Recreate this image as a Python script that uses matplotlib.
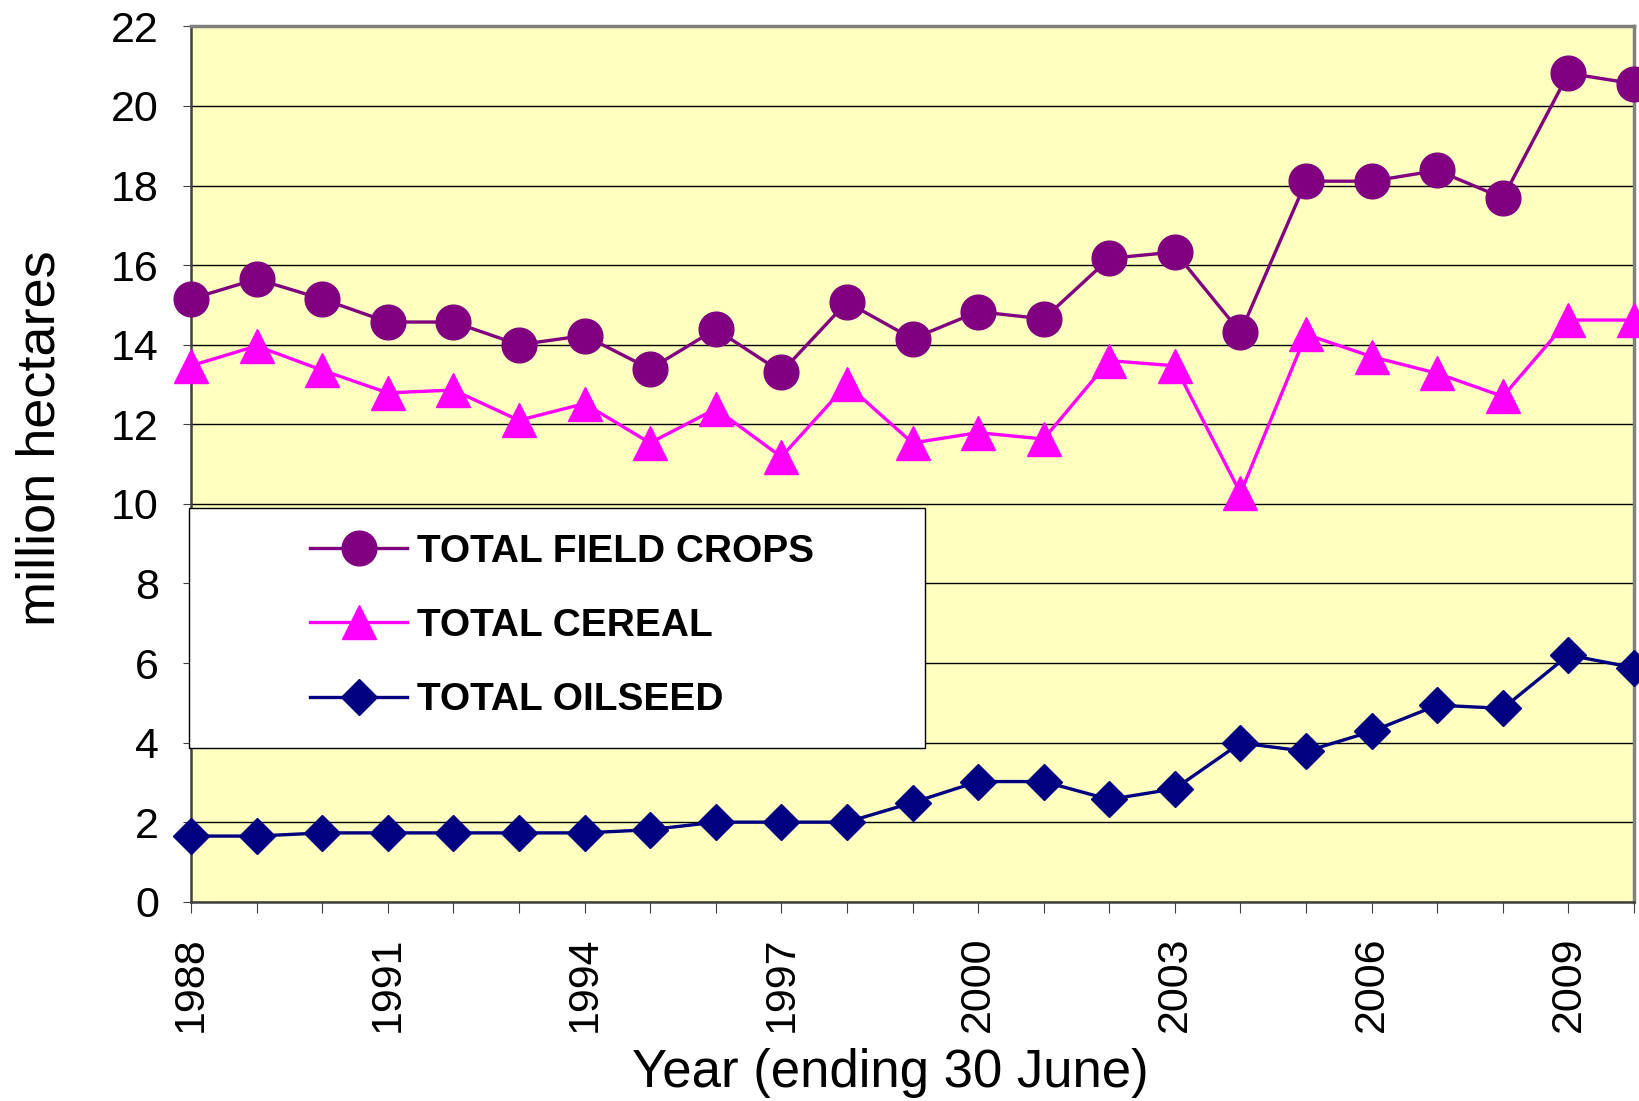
import matplotlib
matplotlib.use("Agg")
import matplotlib.pyplot as plt
from matplotlib.patches import Rectangle

years = list(range(1988, 2011))
field_crops = [15.15, 15.65, 15.15, 14.57, 14.57, 14.0, 14.23, 13.39, 14.39, 13.31,
               15.07, 14.15, 14.83, 14.65, 16.17, 16.33, 14.31, 18.11, 18.11, 18.38,
               17.69, 20.82, 20.56]
cereal = [13.47, 13.97, 13.36, 12.79, 12.86, 12.1, 12.52, 11.53, 12.39, 11.18,
          13.0, 11.53, 11.79, 11.63, 13.6, 13.47, 10.27, 14.26, 13.7, 13.28,
          12.7, 14.62, 14.62]
oilseed = [1.65, 1.65, 1.73, 1.73, 1.73, 1.73, 1.73, 1.81, 2.0, 2.0,
           2.0, 2.49, 3.02, 3.02, 2.57, 2.84, 3.99, 3.78, 4.28, 4.94,
           4.86, 6.2, 5.88]
labels = ["TOTAL FIELD CROPS", "TOTAL CEREAL", "TOTAL OILSEED"]
yticks = list(range(0, 23, 2))
xtick_labels = [str(y) if (y - 1988) % 3 == 0 else "" for y in years]

plt.rcParams['font.family'] = ['Liberation Sans', 'DejaVu Sans']

fig = plt.figure(figsize=(16.39, 11.01), dpi=100)
ax = fig.add_axes([0.1165, 0.181, 0.8805, 0.795])
ax.set_facecolor('#FFFFC0')

l1, = ax.plot(years, field_crops, color='#800080', lw=2.4, marker='o', ms=25,
              label=labels[0], clip_on=False, zorder=5)
l2, = ax.plot(years, cereal, color='#FF00FF', lw=2.4, marker='^', ms=25,
              label=labels[1], clip_on=False, zorder=5)
l3, = ax.plot(years, oilseed, color='#000080', lw=2.4, marker='D', ms=18.5,
              label=labels[2], clip_on=False, zorder=5)

ax.set_xlim(1988, 2010)
ax.set_ylim(0, 22)
ax.set_yticks(yticks)
ax.set_xticks(years)
ax.set_xticklabels(xtick_labels, rotation=90)
ax.tick_params(axis='y', labelsize=31, length=6, pad=17, color='#404040')
ax.tick_params(axis='x', labelsize=31, length=8, pad=17, color='#404040')
ax.grid(axis='y', color='black', lw=1.0)
ax.set_axisbelow(True)
for s in ['top', 'right']:
    ax.spines[s].set_color('#808080')
    ax.spines[s].set_linewidth(2.5)
for s in ['left', 'bottom']:
    ax.spines[s].set_color('#404040')
    ax.spines[s].set_linewidth(1.8)

# legend box
rect = Rectangle((-0.0015, 0.1758), 0.51, 0.274, transform=ax.transAxes,
                 facecolor='white', edgecolor='black', lw=1.0, zorder=6, clip_on=False)
ax.add_patch(rect)
leg = ax.legend(handles=[l1, l2, l3], loc='center left', bbox_to_anchor=(0.0825, 0.315),
                frameon=False, borderpad=0, borderaxespad=0, handlelength=2.5,
                handletextpad=0.26, labelspacing=0.98,
                prop={'size': 28, 'weight': 'bold'})
leg.set_zorder(7)

fig.text(0.0245, 0.602, 'million hectares', rotation=90, fontsize=39,
         ha='center', va='center')
fig.text(0.5435, 0.025, 'Year (ending 30 June)', fontsize=38, ha='center', va='center')

fig.savefig('out.png', dpi=100)
